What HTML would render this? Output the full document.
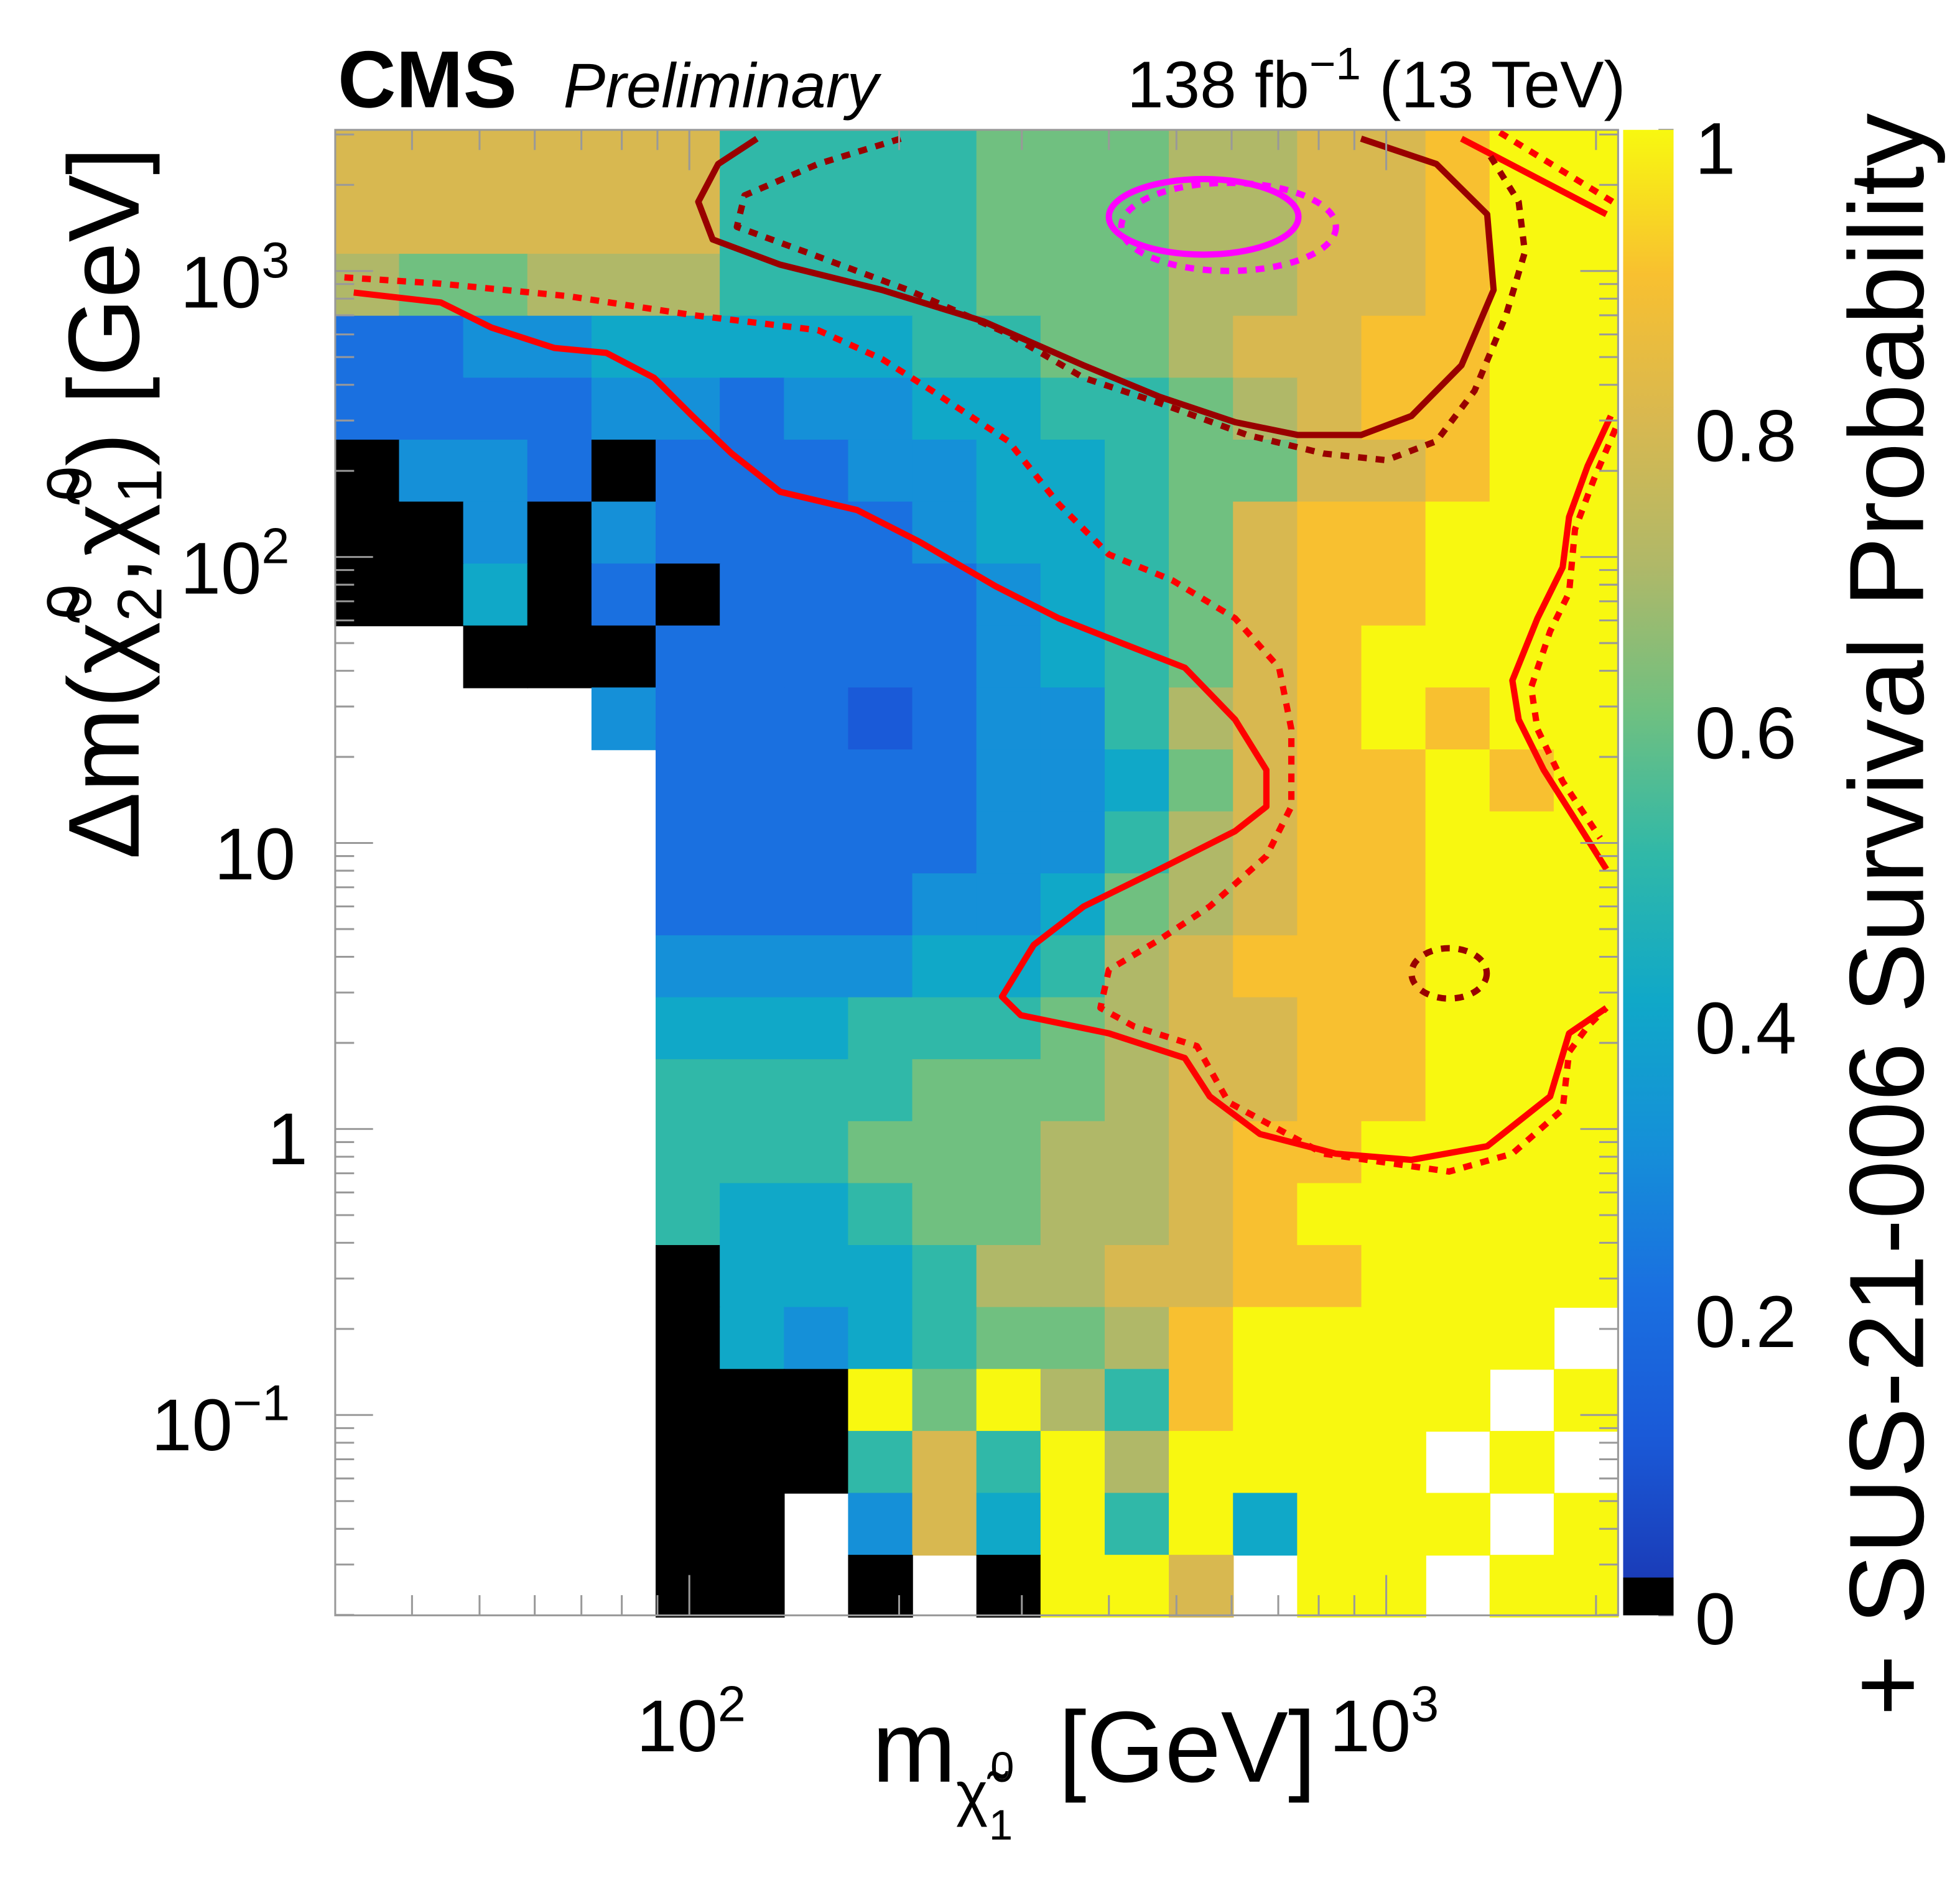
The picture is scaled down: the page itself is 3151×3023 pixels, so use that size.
<!DOCTYPE html>
<html><head><meta charset="utf-8"><style>
html,body{margin:0;padding:0;background:#fff;}
svg{display:block;font-family:"Liberation Sans",sans-serif;}
</style></head><body>
<svg id="chart" width="3151" height="3023" viewBox="0 0 1555.3 1492" xmlns="http://www.w3.org/2000/svg">
<g id="heat"></g>
<g id="contours"></g>
<rect x="266" y="103" width="1018" height="1179" fill="none" stroke="#999" stroke-width="1.5"/>
<g id="ticks"></g>
<defs>
<linearGradient id="cbg" x1="0" y1="1" x2="0" y2="0">
<stop offset="0" stop-color="#1a3cb8"/><stop offset="0.1" stop-color="#1a5ad8"/><stop offset="0.2" stop-color="#1a70e0"/><stop offset="0.3" stop-color="#1590d8"/><stop offset="0.4" stop-color="#10a8c8"/><stop offset="0.5" stop-color="#30b8a8"/><stop offset="0.6" stop-color="#70c080"/><stop offset="0.7" stop-color="#b0b868"/><stop offset="0.8" stop-color="#d8b850"/><stop offset="0.9" stop-color="#f8c030"/><stop offset="1" stop-color="#f8f810"/>
</linearGradient></defs>
<g>
<rect x="1288" y="103" width="40" height="1150" fill="url(#cbg)"/>
<rect x="1288" y="1252" width="40" height="30" fill="#000"/>
</g>
<g font-size="58" fill="#000">
<text x="1345" y="138">1</text>
<text x="1345" y="366">0.8</text>
<text x="1345" y="602">0.6</text>
<text x="1345" y="836">0.4</text>
<text x="1345" y="1069">0.2</text>
<text x="1345" y="1305">0</text>
<text x="505" y="1390">10<tspan font-size="40" dy="-24">2</tspan></text>
<text x="1055" y="1390">10<tspan font-size="40" dy="-24">3</tspan></text>
<text x="143" y="244">10<tspan font-size="40" dy="-24">3</tspan></text>
<text x="143" y="471">10<tspan font-size="40" dy="-24">2</tspan></text>
<text x="170" y="698">10</text>
<text x="212" y="924">1</text>
<text x="120" y="1151">10<tspan font-size="40" dy="-24">−1</tspan></text>
</g>
<text x="268" y="85" font-size="64" font-weight="bold">CMS</text>
<text x="447" y="85" font-size="50" font-style="italic">Preliminary</text>
<text x="1290" y="85" font-size="52" text-anchor="end">138 fb<tspan font-size="36" dy="-22">−1</tspan><tspan dy="22"> (13 TeV)</tspan></text>
<text x="692" y="1414" font-size="80">m<tspan font-size="48" dy="26">χ̃</tspan><tspan font-size="34" dy="-26" dx="2">0</tspan><tspan font-size="34" dy="46" dx="-20">1</tspan><tspan dy="-46" dx="14"> [GeV]</tspan></text>
<text transform="translate(110,682) rotate(-90)" font-size="80">Δm(χ̃<tspan font-size="50" dy="18">2</tspan><tspan font-size="50" dy="-56" dx="-26">0</tspan><tspan dy="38">,χ̃</tspan><tspan font-size="50" dy="18">1</tspan><tspan font-size="50" dy="-56" dx="-26">0</tspan><tspan dy="38">) [GeV]</tspan></text>
<text transform="translate(1526,1362) rotate(-90)" font-size="84">+ SUS-21-006 Survival Probability</text>
</svg>
<script>
const heatRows = [
"888888555566677889YY",
"888888555566677889YY",
"766777555566677889YY",
"223344444556678899YY",
"222233233445567899YY",
"k332k2223344566889YY",
"kk3k3222234456899YYY",
"kk4k2k22223456899YYY",
"__kkk22222345689YYYY",
"____322212335789Y9YY",
"_____222223346899Y9Y",
"_____222223357899YYY",
"_____222233467899YYY",
"_____333344578999YYY",
"_____444555678899YYY",
"_____555566678899YYY",
"_____55566677899YYYY",
"_____5445667789YYYYY",
"_____k4445778899YYYY",
"_____k43456679YYYYY_",
"_____kkkY6Y759YYYY_Y",
"_____kkk585Y7YYYY_Y_",
"_____kk_384Y5Y4YYY_Y",
"_____kk_k_kYY8_YY_YY"
];
const massRange = [31.0, 2150];
const dmRange = [0.0197, 3114];
const redSolid = [[33,841],[44,776],[52,634],[64,538],[76,517],[89,423],[101,311],[115,230],[135,169],[174,146],[214,113],[275,79],[339,61],[417,50],[514,41],[607,27],[673,18],[673,13.4],[607,11],[473,8.1],[368,6.0],[312,4.4],[281,2.9],[299,2.5],[400,2.16],[514,1.77],[558,1.30],[659,0.96],[847,0.82],[1087,0.78],[1396,0.87],[1719,1.30],[1830,2.16],[2070,2.65]];
const redDotted = [[32,950],[44,903],[67,816],[101,701],[153,621],[189,492],[223,381],[287,254],[339,153],[400,102],[493,83],[607,61],[702,41],[731,25],[731,13.4],[673,9.0],[558,6.0],[473,4.6],[400,3.6],[389,2.65],[435,2.28],[535,1.95],[594,1.24],[813,0.82],[1231,0.71],[1517,0.82],[1791,1.17],[1830,1.86],[1945,2.28],[2070,2.65]];
const redRightSolid = [[2100,311],[1945,208],[1830,138],[1791,92],[1648,61],[1517,37],[1549,27],[1683,18],[1866,12.1],[2070,8.1]];
const redRightDotted = [[2134,281],[1986,187],[1866,125],[1830,75],[1719,55],[1614,35],[1648,25],[1791,16.4],[2028,10.4]];
const redCornerSolid = [[1282,2900],[2070,1578]];
const redCornerDotted = [[1455,3050],[2113,1745]];
const darkSolid = [[125,2900],[110,2367],[103,1745],[108,1289],[135,1052],[189,858],[264,667],[368,468],[473,363],[607,296],[747,267],[920,267],[1087,311],[1282,468],[1426,858],[1396,1578],[1180,2367],[920,2900]];
const darkDotted = [[201,2900],[153,2367],[120,1837],[117,1426],[147,1164],[206,858],[287,602],[368,423],[473,345],[632,267],[813,230],[1000,218],[1180,254],[1339,381],[1486,701],[1581,1164],[1549,1745],[1396,2623]];
const darkBlob = [1231, 3.5, 0.054, 0.088];
const magentaSolid = [547, 1546, 0.136, 0.132];
const magentaDotted = [594, 1426, 0.154, 0.154];

const NS="http://www.w3.org/2000/svg";
const L=Math.log10;
function X(m){return 547+553*(L(m)-2);}
function Y(d){return 215+227*(3-L(d));}
const stops=[[0,[26,60,184]],[0.1,[26,90,216]],[0.2,[26,112,224]],[0.3,[21,144,216]],[0.4,[16,168,200]],[0.5,[48,184,168]],[0.6,[112,192,128]],[0.7,[176,184,104]],[0.8,[216,184,80]],[0.9,[248,192,48]],[1,[248,248,16]]];
function col(v){
  if(v<0.03) return "#000";
  for(let i=1;i<stops.length;i++){
    if(v<=stops[i][0]){const a=stops[i-1],b=stops[i];const t=(v-a[0])/(b[0]-a[0]);
      const c=a[1].map((x,k)=>Math.round(x+(b[1][k]-x)*t));return `rgb(${c})`;}
  }
  return "rgb(248,248,16)";
}
const heat=document.getElementById('heat');
const nC=heatRows[0].length,nR=heatRows.length;
const lx0=L(massRange[0]),lx1=L(massRange[1]),ly0=L(dmRange[1]),ly1=L(dmRange[0]);
for(let j=0;j<nR;j++){for(let i=0;i<nC;i++){
  const ch=heatRows[j][i]; if(ch==='_') continue;
  const v= ch==='Y'?1:(ch==='k'?0:parseInt(ch)/10);
  const xa=X(Math.pow(10,lx0+(lx1-lx0)*i/nC)), xb=X(Math.pow(10,lx0+(lx1-lx0)*(i+1)/nC));
  const ya=Y(Math.pow(10,ly0+(ly1-ly0)*j/nR)), yb=Y(Math.pow(10,ly0+(ly1-ly0)*(j+1)/nR));
  const r=document.createElementNS(NS,'rect');
  
  
  r.setAttribute('x',xa);r.setAttribute('y',ya);r.setAttribute('width',xb-xa+0.6);r.setAttribute('height',yb-ya+0.6);
  r.setAttribute('fill',col(v));heat.appendChild(r);
}}
const cg=document.getElementById('contours');
function line(pts,color,dash,name){
  const p=document.createElementNS(NS,'path');
  
  
  p.setAttribute('d',pts.map((q,k)=>(k?'L':'M')+X(q[0]).toFixed(1)+','+Y(q[1]).toFixed(1)).join(''));
  p.setAttribute('fill','none');p.setAttribute('stroke',color);p.setAttribute('stroke-width','5');
  p.setAttribute('stroke-linejoin','round');
  if(dash)p.setAttribute('stroke-dasharray','7,7');
  cg.appendChild(p);
}
function ell(e,color,dash,name){
  const el=document.createElementNS(NS,'ellipse');
  
  
  el.setAttribute('cx',X(e[0]));el.setAttribute('cy',Y(e[1]));
  el.setAttribute('rx',553*e[2]);el.setAttribute('ry',227*e[3]);
  el.setAttribute('fill','none');el.setAttribute('stroke',color);el.setAttribute('stroke-width','5');
  if(dash)el.setAttribute('stroke-dasharray','7,7');
  cg.appendChild(el);
}
line(redSolid,'#ff0000',false,'observed-contour');
line(redDotted,'#ff0000',true,'expected-contour');
line(redRightSolid,'#ff0000',false,'observed-contour-right');
line(redRightDotted,'#ff0000',true,'expected-contour-right');
line(redCornerSolid,'#ff0000',false,'observed-contour-corner');
line(redCornerDotted,'#ff0000',true,'expected-contour-corner');
line(darkSolid,'#990000',false,'darkred-contour');
line(darkDotted,'#990000',true,'darkred-contour-dotted');
ell(darkBlob,'#990000',true,'darkred-island');
ell(magentaSolid,'#ff00ff',false,'magenta-contour');
ell(magentaDotted,'#ff00ff',true,'magenta-contour-dotted');
const tg=document.getElementById('ticks');
function tk(x1,y1,x2,y2){const l=document.createElementNS(NS,'line');
  
  
  l.setAttribute('x1',x1);l.setAttribute('y1',y1);l.setAttribute('x2',x2);l.setAttribute('y2',y2);
  l.setAttribute('stroke','#999');l.setAttribute('stroke-width','1.5');tg.appendChild(l);}
for(let e=1;e<=3;e++)for(let k=1;k<10;k++){const m=k*Math.pow(10,e);if(m<massRange[0]||m>massRange[1])continue;
  const x=X(m),len=k===1?32:16;tk(x,1282,x,1282-len);tk(x,103,x,103+len);}
for(let e=-2;e<=3;e++)for(let k=1;k<10;k++){const d=k*Math.pow(10,e);if(d<dmRange[0]||d>dmRange[1])continue;
  const y=Y(d),len=k===1?30:15;tk(266,y,266+len,y);tk(1284,y,1284-len,y);}
for(let k=0;k<=5;k++){const y=1282-1179*k/5;tk(1328,y,1316,y);}
</script>
</body></html>
